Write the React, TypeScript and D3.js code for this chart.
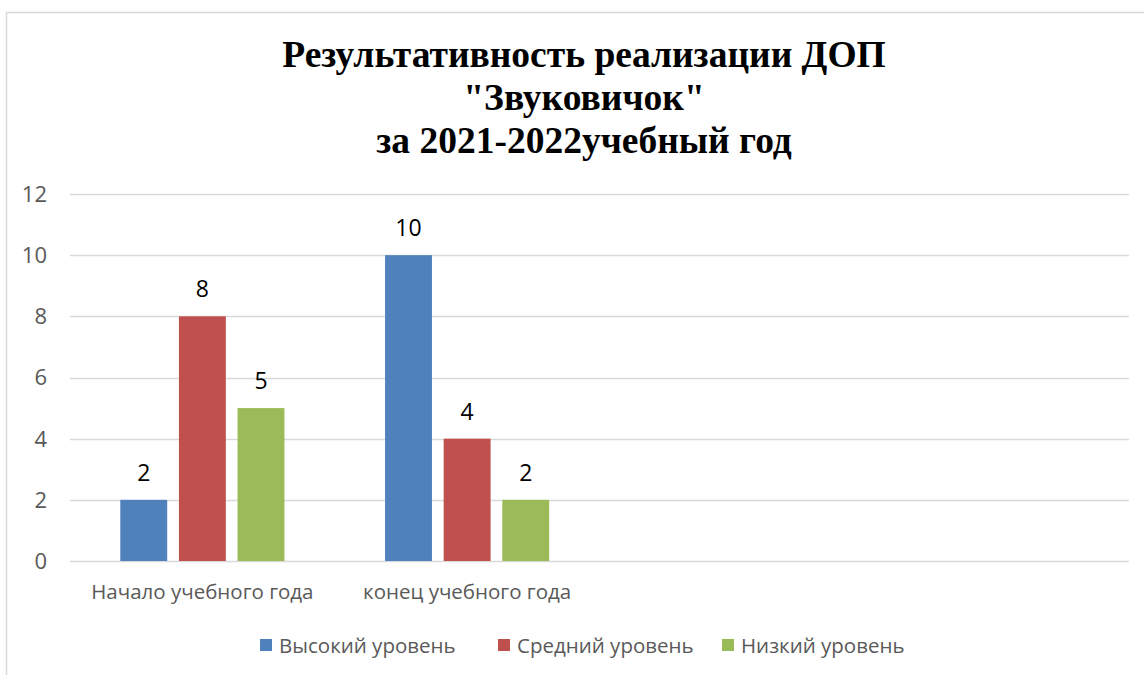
import { useEffect, useRef } from 'react';
import * as d3 from 'd3';

const W = 1144;
const H = 675;

const TITLE_LINES = ['Результативность реализации ДОП', '"Звуковичок"', 'за 2021-2022учебный год'];
// two visible categories, plus two empty slots that the original chart kept
const CATEGORIES = ['Начало учебного года', 'конец учебного года', '', ''];
const SERIES = ['Высокий уровень', 'Средний уровень', 'Низкий уровень'];
const COLORS = ['#4F81BD', '#C0504D', '#9BBB59'];
const HIGH = [2, 10];
const MIDDLE = [8, 4];
const LOW = [5, 2];
const Y_TICKS = [0, 2, 4, 6, 8, 10, 12];

const FONT = '"Open Sans", Carlito, Calibri, sans-serif';

export default function App() {
  const svgRef = useRef<SVGSVGElement>(null);

  useEffect(() => {
    const svg = d3.select(svgRef.current);
    svg.selectAll('*').remove();

    const plot = { left: 70, right: 1129, top: 194, bottom: 561 };
    const values = [HIGH, MIDDLE, LOW];

    // chart frame (runs past the image on right and bottom)
    svg.append('rect')
      .attr('x', 6.5).attr('y', 12.5)
      .attr('width', W + 40).attr('height', H + 40)
      .attr('fill', '#fff')
      .attr('stroke', '#D9D9D9').attr('stroke-width', 1.5);

    // title
    const title = svg.append('text')
      .attr('text-anchor', 'middle')
      .attr('font-family', '"Liberation Serif", "Times New Roman", serif')
      .attr('font-weight', 'bold')
      .attr('font-size', 37.5)
      .attr('fill', '#000');
    TITLE_LINES.forEach((line, i) => {
      title.append('tspan').attr('x', 584).attr('y', 67 + i * 43).text(line);
    });

    const y = d3.scaleLinear().domain([0, 12]).range([plot.bottom, plot.top]);
    const x0 = d3.scaleBand<string>()
      .domain(CATEGORIES.map((_, i) => String(i)))
      .range([plot.left, plot.right])
      .paddingInner(0.38)
      .paddingOuter(0.19);
    const x1 = d3.scaleBand<string>()
      .domain(SERIES)
      .range([0, x0.bandwidth()])
      .paddingInner(0.2);

    // gridlines
    svg.append('g')
      .selectAll('line')
      .data(Y_TICKS)
      .join('line')
      .attr('x1', plot.left).attr('x2', plot.right)
      .attr('y1', d => Math.round(y(d)) + 0.5).attr('y2', d => Math.round(y(d)) + 0.5)
      .attr('stroke', '#D9D9D9').attr('stroke-width', 1.5);

    // y tick labels
    svg.append('g')
      .selectAll('text')
      .data(Y_TICKS)
      .join('text')
      .attr('x', 47)
      .attr('y', d => y(d))
      .attr('dy', '0.36em')
      .attr('text-anchor', 'end')
      .attr('font-family', FONT)
      .attr('font-size', 22)
      .attr('fill', '#595959')
      .text(d => d);

    // category labels
    svg.append('g')
      .selectAll('text')
      .data(CATEGORIES)
      .join('text')
      .attr('x', (_, i) => x0(String(i))! + x0.bandwidth() / 2)
      .attr('y', 599)
      .attr('text-anchor', 'middle')
      .attr('font-family', FONT)
      .attr('font-size', 20.5)
      .attr('fill', '#595959')
      .text(d => d);

    // bars + labels
    SERIES.forEach((s, si) => {
      const g = svg.append('g');
      const data = values[si].map((v, ci) => ({ v, ci }));
      g.selectAll('rect')
        .data(data)
        .join('rect')
        .attr('x', d => x0(String(d.ci))! + x1(s)!)
        .attr('y', d => y(d.v))
        .attr('width', x1.bandwidth())
        .attr('height', d => y(0) - y(d.v))
        .attr('fill', COLORS[si]);
      g.selectAll('text')
        .data(data)
        .join('text')
        .attr('x', d => x0(String(d.ci))! + x1(s)! + x1.bandwidth() / 2)
        .attr('y', d => y(d.v) - 19)
        .attr('text-anchor', 'middle')
        .attr('font-family', FONT)
        .attr('font-size', 23)
        .attr('fill', '#000')
        .text(d => d.v);
    });

    // legend
    const legendX = [260, 498, 722];
    const legend = svg.append('g');
    SERIES.forEach((s, i) => {
      legend.append('rect')
        .attr('x', legendX[i]).attr('y', 639)
        .attr('width', 12).attr('height', 12)
        .attr('fill', COLORS[i]);
      legend.append('text')
        .attr('x', legendX[i] + 19).attr('y', 653)
        .attr('font-family', FONT)
        .attr('font-size', 20.5)
        .attr('fill', '#595959')
        .text(s);
    });
  }, []);

  return (
    <>
      <style>{'body{margin:0}'}</style>
      <svg ref={svgRef} width={W} height={H} style={{ display: 'block', background: '#fff' }} />
    </>
  );
}
